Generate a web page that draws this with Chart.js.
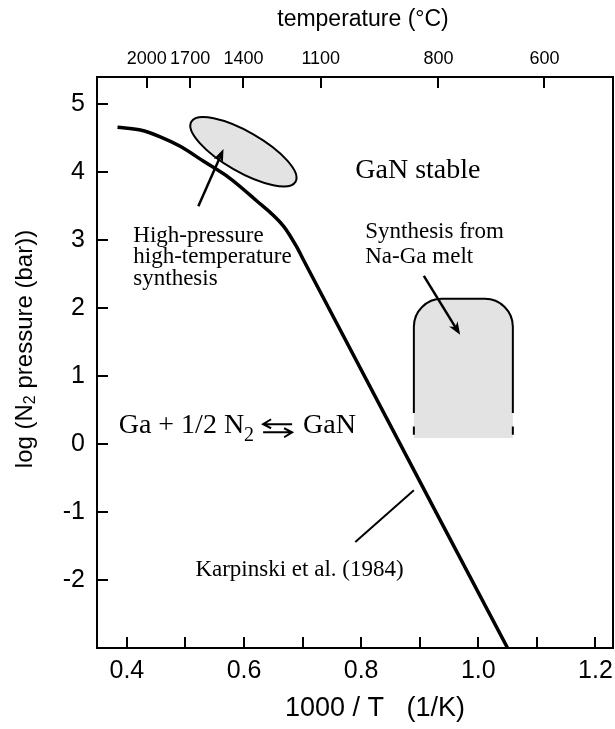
<!DOCTYPE html>
<html>
<head>
<meta charset="utf-8">
<script src="https://cdn.jsdelivr.net/npm/chart.js@4.4.0/dist/chart.umd.min.js"></script>
<style>
html, body { margin: 0; padding: 0; background: #fff; }
</style>
</head>
<body>
<canvas id="chart1" width="615" height="729"></canvas>
<script>
// GaN equilibrium line (Karpinski et al. 1984), x = 1000/T, y = log p(N2)
var curveX = [0.384, 0.423, 0.457, 0.491, 0.531, 0.576, 0.616, 0.668, 0.690, 0.702, 1.050];
var curveY = [4.66, 4.62, 4.52, 4.38, 4.16, 3.91, 3.62, 3.20, 2.90, 2.70, -3.00];

// axes
var xTickVals = [0.4, 0.5, 0.6, 0.7, 0.8, 0.9, 1.0, 1.1, 1.2];
var xTickLabels = ['0.4', '', '0.6', '', '0.8', '', '1.0', '', '1.2'];
var yTickVals = [-2, -1, 0, 1, 2, 3, 4, 5];
var yTickLabels = ['-2', '-1', '0', '1', '2', '3', '4', '5'];
var tempTickVals = [0.434, 0.508, 0.599, 0.731, 0.932, 1.113];
var tempTickLabels = ['2000', '1700', '1400', '1100', '800', '600'];

// regions
var hpEllipseCenter = [0.599, 4.30];
var hpEllipseTip = [0.688, 3.86];
var meltX = [0.890, 1.059];
var meltY = [2.137, 0.456, 0.088];   // top, end of solid side, end of fill
var meltDashY = [0.26, 0.137];

// pointers
var hpArrowX = [0.522, 0.565];
var hpArrowY = [3.50, 4.34];
var meltArrowX = [0.907, 0.969];
var meltArrowY = [2.475, 1.607];
var karpLineX = [0.790, 0.890];
var karpLineY = [-1.44, -0.68];

// labels (x = left edge, y = baseline)
var noteText = ['GaN stable', 'High-pressure', 'high-temperature', 'synthesis', 'Synthesis from', 'Na-Ga melt', 'Karpinski et al. (1984)'];
var noteX = [0.790, 0.411, 0.411, 0.411, 0.807, 0.807, 0.517];
var noteY = [3.915, 2.976, 2.658, 2.339, 3.031, 2.663, -1.945];
var eqX = 0.386, eqY = 0.159;

var SANS = '"Liberation Sans", Arial, sans-serif';
var SERIF = '"Liberation Serif", "Times New Roman", serif';
var noteSize = [28, 23, 23, 23, 23, 23, 23];

Chart.defaults.color = '#000';
Chart.defaults.font.family = SANS;

function pts(xs, ys) {
    return xs.map(function (x, i) { return { x: x, y: ys[i] }; });
}

function arrow(ctx, x1, y1, x2, y2) {
    var a = Math.atan2(y2 - y1, x2 - x1), len = 13, half = 5;
    var c = Math.cos(a), s = Math.sin(a);
    ctx.beginPath();
    ctx.moveTo(x1, y1);
    ctx.lineTo(x2 - c * len * 0.7, y2 - s * len * 0.7);
    ctx.stroke();
    ctx.beginPath();
    ctx.moveTo(x2, y2);
    ctx.lineTo(x2 - len * c + half * s, y2 - len * s - half * c);
    ctx.lineTo(x2 - len * 0.7 * c, y2 - len * 0.7 * s);
    ctx.lineTo(x2 - len * c - half * s, y2 - len * s + half * c);
    ctx.closePath();
    ctx.fill();
}

var annot = {
    id: 'annot',
    beforeDatasetsDraw: function (chart) {
        var ctx = chart.ctx, xs = chart.scales.x, ys = chart.scales.y;
        ctx.save();
        ctx.strokeStyle = '#000';
        ctx.fillStyle = '#e3e3e3';
        ctx.lineWidth = 2;

        var cx = xs.getPixelForValue(hpEllipseCenter[0]), cy = ys.getPixelForValue(hpEllipseCenter[1]);
        var tx = xs.getPixelForValue(hpEllipseTip[0]), ty = ys.getPixelForValue(hpEllipseTip[1]);
        var ra = Math.hypot(tx - cx, ty - cy);
        ctx.beginPath();
        ctx.ellipse(cx, cy, ra, ra / 3, Math.atan2(ty - cy, tx - cx), 0, Math.PI * 2);
        ctx.fill();
        ctx.stroke();

        var l = xs.getPixelForValue(meltX[0]), r = xs.getPixelForValue(meltX[1]);
        var t = ys.getPixelForValue(meltY[0]), sb = ys.getPixelForValue(meltY[1]), fb = ys.getPixelForValue(meltY[2]);
        var rad = 28;
        ctx.beginPath();
        ctx.moveTo(l, fb);
        ctx.lineTo(l, t + rad);
        ctx.arcTo(l, t, l + rad, t, rad);
        ctx.lineTo(r - rad, t);
        ctx.arcTo(r, t, r, t + rad, rad);
        ctx.lineTo(r, fb);
        ctx.closePath();
        ctx.fill();
        ctx.beginPath();
        ctx.moveTo(l, sb);
        ctx.lineTo(l, t + rad);
        ctx.arcTo(l, t, l + rad, t, rad);
        ctx.lineTo(r - rad, t);
        ctx.arcTo(r, t, r, t + rad, rad);
        ctx.lineTo(r, sb);
        ctx.stroke();
        var d1 = ys.getPixelForValue(meltDashY[0]), d2 = ys.getPixelForValue(meltDashY[1]);
        ctx.beginPath();
        ctx.moveTo(l, d1); ctx.lineTo(l, d2);
        ctx.moveTo(r, d1); ctx.lineTo(r, d2);
        ctx.stroke();
        ctx.restore();
    },
    afterDatasetsDraw: function (chart) {
        var ctx = chart.ctx, xs = chart.scales.x, ys = chart.scales.y;
        ctx.save();
        ctx.strokeStyle = '#000';
        ctx.fillStyle = '#000';
        ctx.lineWidth = 2.5;
        arrow(ctx, xs.getPixelForValue(hpArrowX[0]), ys.getPixelForValue(hpArrowY[0]),
            xs.getPixelForValue(hpArrowX[1]), ys.getPixelForValue(hpArrowY[1]));
        arrow(ctx, xs.getPixelForValue(meltArrowX[0]), ys.getPixelForValue(meltArrowY[0]),
            xs.getPixelForValue(meltArrowX[1]), ys.getPixelForValue(meltArrowY[1]));

        ctx.textAlign = 'left';
        ctx.textBaseline = 'alphabetic';
        noteText.forEach(function (txt, i) {
            ctx.font = noteSize[i] + 'px ' + SERIF;
            ctx.fillText(txt, xs.getPixelForValue(noteX[i]), ys.getPixelForValue(noteY[i]));
        });

        // Ga + 1/2 N2 <=> GaN
        var x = xs.getPixelForValue(eqX), y = ys.getPixelForValue(eqY);
        ctx.font = '28px ' + SERIF;
        ctx.fillText('Ga + 1/2 N', x, y);
        x += ctx.measureText('Ga + 1/2 N').width;
        ctx.font = '20px ' + SERIF;
        ctx.fillText('2', x, y + 8);
        x += ctx.measureText('2').width + 9;
        ctx.lineWidth = 2;
        var w = 29, ya = y - 9, yb = y - 1;
        ctx.beginPath();
        ctx.moveTo(x + w, ya); ctx.lineTo(x, ya);
        ctx.moveTo(x + 8, ya - 5); ctx.lineTo(x, ya); ctx.lineTo(x + 8, ya + 4);
        ctx.moveTo(x, yb); ctx.lineTo(x + w, yb);
        ctx.moveTo(x + w - 8, yb - 4); ctx.lineTo(x + w, yb); ctx.lineTo(x + w - 8, yb + 5);
        ctx.stroke();
        x += w + 11;
        ctx.font = '28px ' + SERIF;
        ctx.fillText('GaN', x, y);
        ctx.restore();
    },
    afterDraw: function (chart) {
        var ctx = chart.ctx;
        ctx.save();
        ctx.fillStyle = '#000';
        ctx.textAlign = 'center';
        ctx.textBaseline = 'middle';
        ctx.font = '23px ' + SANS;
        ctx.fillText('temperature (°C)', 363, 20);
        ctx.font = '27px ' + SANS;
        ctx.fillText('1000 / T   (1/K)', 375, 709);

        // y title with subscript
        ctx.translate(25, 349);
        ctx.rotate(-Math.PI / 2);
        ctx.textAlign = 'left';
        var big = '24px ' + SANS, small = '16px ' + SANS;
        ctx.font = big;
        var w1 = ctx.measureText('log (N').width, w3 = ctx.measureText(' pressure (bar))').width;
        ctx.font = small;
        var w2 = ctx.measureText('2').width;
        var x0 = -(w1 + w2 + w3) / 2;
        ctx.font = big;
        ctx.fillText('log (N', x0, 0);
        ctx.font = small;
        ctx.fillText('2', x0 + w1, 6);
        ctx.font = big;
        ctx.fillText(' pressure (bar))', x0 + w1 + w2, 0);
        ctx.restore();
    }
};

function fixSize(size) {
    return function (axis) {
        if (axis.isHorizontal()) {
            axis.height = size;
            axis.paddingLeft = 0;
            axis.paddingRight = 0;
        } else {
            axis.width = size;
            axis.paddingTop = 0;
            axis.paddingBottom = 0;
        }
    };
}

var gridOpts = { drawOnChartArea: false, tickLength: -11, lineWidth: 2, color: '#000' };
var borderOpts = { color: '#000', width: 2 };

var chart1 = new Chart(document.getElementById('chart1'), {
    type: 'scatter',
    data: {
        datasets: [
            {
                data: pts(curveX, curveY),
                showLine: true,
                borderColor: '#000',
                borderWidth: 3.5,
                pointRadius: 0,
                cubicInterpolationMode: 'monotone',
                fill: false,
            },
            {
                data: pts(karpLineX, karpLineY),
                showLine: true,
                borderColor: '#000',
                borderWidth: 2,
                pointRadius: 0,
                fill: false,
            },
        ],
    },
    options: {
        responsive: false,
        animation: false,
        devicePixelRatio: 1,
        layout: { padding: 0 },
        plugins: { legend: { display: false }, tooltip: { enabled: false } },
        scales: {
            x: {
                type: 'linear',
                position: 'bottom',
                min: 0.349,
                max: 1.230,
                afterBuildTicks: function (axis) {
                    axis.ticks = xTickVals.map(function (v) { return { value: v }; });
                },
                afterFit: fixSize(81),
                ticks: {
                    autoSkip: false,
                    maxRotation: 0,
                    padding: 19,
                    font: { size: 25 },
                    callback: function (v, i) { return xTickLabels[i]; },
                },
                grid: gridOpts,
                border: borderOpts,
            },
            x2: {
                type: 'linear',
                position: 'top',
                min: 0.349,
                max: 1.230,
                afterBuildTicks: function (axis) {
                    axis.ticks = tempTickVals.map(function (v) { return { value: v }; });
                },
                afterFit: fixSize(77),
                ticks: {
                    autoSkip: false,
                    maxRotation: 0,
                    padding: 18,
                    font: { size: 18 },
                    callback: function (v, i) { return tempTickLabels[i]; },
                },
                grid: gridOpts,
                border: borderOpts,
            },
            y: {
                type: 'linear',
                position: 'left',
                min: -3.0,
                max: 5.40,
                afterBuildTicks: function (axis) {
                    axis.ticks = yTickVals.map(function (v) { return { value: v }; });
                },
                afterFit: fixSize(97),
                ticks: {
                    autoSkip: false,
                    padding: 23,
                    font: { size: 25 },
                    callback: function (v, i) { return yTickLabels[i]; },
                },
                grid: gridOpts,
                border: borderOpts,
            },
            y2: {
                type: 'linear',
                position: 'right',
                min: -3.0,
                max: 5.40,
                afterFit: fixSize(2),
                ticks: { display: false },
                grid: { display: false, drawTicks: false },
                border: borderOpts,
            },
        },
    },
    plugins: [annot],
});
</script>
</body>
</html>
